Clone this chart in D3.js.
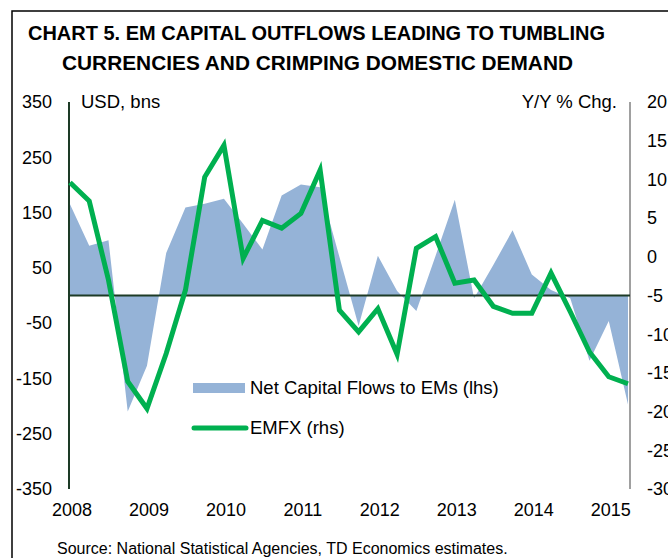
<!DOCTYPE html>
<meta charset="utf-8">

<style>
  body { margin: 0; background: #fff; }
  text { font-family: "Liberation Sans", Arial, sans-serif; fill: #000; }
  .title { font-family: "Liberation Sans Narrow", "Arial Narrow", "Liberation Sans", sans-serif; font-weight: bold; font-size: 21px; }
  .tick-label { font-size: 18px; }
  .axis-title { font-size: 18.5px; }
  .legend text { font-size: 18.5px; }
</style>

<svg width="668" height="558"></svg>

<script src="https://d3js.org/d3.v7.min.js"></script>
<script>
// ====================================================================
// quarterly, 2008Q1 .. 2015Q2
const quarters = d3.range(30)
const years = ["2008", "2009", "2010", "2011", "2012", "2013", "2014", "2015"]

// net capital flows to EMs, USD bns (lhs)
const netFlows = [165, 90, 100, -210, -127, 77, 159, 166,
                  175, 130, 83, 181, 201, 196, 70, -55,
                  72, 8, -28, 72, 173, -5, 55, 118,
                  38, 10, -5, -118, -46, -197]

// EMFX, y/y % chg (rhs)
const emfx = [9.6, 7.2, -3, -16.1, -19.6, -12.5, -4.3, 10.3,
              14.4, -0.2, 4.7, 3.7, 5.6, 11.2, -6.9, -9.7,
              -6.7, -12.6, 1.1, 2.6, -3.4, -3.0, -6.4, -7.3,
              -7.3, -2.1, -7.1, -12.3, -15.5, -16.4]

const leftTicks = [350, 250, 150, 50, -50, -150, -250, -350]
const rightTicks = [20, 15, 10, 5, 0, -5, -10, -15, -20, -25, -30]

// ====================================================================
const svg = d3.select("svg")

const x = d3.scaleLinear().domain([0, 29]).range([70, 628])
const yL = d3.scaleLinear().domain([-350, 350]).range([489, 102])
const yR = d3.scaleLinear().domain([-30, 20]).range([489, 102])

// frame
svg.append("rect")
    .attr("x", 12).attr("y", 11)
    .attr("width", 700).attr("height", 600)
    .attr("fill", "none")
    .attr("stroke", "#000")
    .attr("stroke-width", 1.5)

// title, squeezed to the narrow width of the original
svg.append("text").attr("class", "title")
    .attr("x", 28).attr("y", 40)
    .attr("textLength", 577).attr("lengthAdjust", "spacingAndGlyphs")
    .text("CHART 5. EM CAPITAL OUTFLOWS LEADING TO TUMBLING")
svg.append("text").attr("class", "title")
    .attr("x", 62).attr("y", 70)
    .attr("textLength", 511).attr("lengthAdjust", "spacingAndGlyphs")
    .text("CURRENCIES AND CRIMPING DOMESTIC DEMAND")

// area for net flows
const area = d3.area()
    .x((d, i) => x(i))
    .y0(yL(0))
    .y1((d) => yL(d))

svg.append("path")
    .datum(netFlows)
    .attr("d", area)
    .attr("fill", "#95b3d7")

// axes lines
svg.append("line")
    .attr("x1", 69).attr("x2", 69)
    .attr("y1", yL(350)).attr("y2", yL(-350))
    .attr("stroke", "#1d3b26").attr("stroke-width", 2)

svg.append("line")
    .attr("x1", 630).attr("x2", 630)
    .attr("y1", yR(20)).attr("y2", yR(-30))
    .attr("stroke", "#a0a0a0").attr("stroke-width", 2)

svg.append("line")
    .attr("x1", 69).attr("x2", 630)
    .attr("y1", yL(0)).attr("y2", yL(0))
    .attr("stroke", "#1d3b26").attr("stroke-width", 2)

// emfx line
const line = d3.line()
    .x((d, i) => x(i))
    .y((d) => yR(d))

svg.append("path")
    .datum(emfx)
    .attr("d", line)
    .attr("fill", "none")
    .attr("stroke", "#00b050")
    .attr("stroke-width", 5)
    .attr("stroke-linejoin", "miter")

// left tick labels
svg.append("g")
    .selectAll("text")
    .data(leftTicks)
    .enter()
    .append("text")
    .attr("class", "tick-label")
    .attr("x", 52)
    .attr("y", (d) => yL(d))
    .attr("dy", "0.35em")
    .attr("text-anchor", "end")
    .text((d) => d)

// right tick labels (cut by the picture edge, as in the original)
svg.append("g")
    .selectAll("text")
    .data(rightTicks)
    .enter()
    .append("text")
    .attr("class", "tick-label")
    .attr("x", 647)
    .attr("y", (d) => yR(d))
    .attr("dy", "0.35em")
    .text((d) => d)

// x labels
svg.append("g")
    .selectAll("text")
    .data(years)
    .enter()
    .append("text")
    .attr("class", "tick-label")
    .attr("x", (d, i) => x(i * 4) + 2)
    .attr("y", 510)
    .attr("dy", "0.35em")
    .attr("text-anchor", "middle")
    .text((d) => d)

// axis titles
svg.append("text").attr("class", "axis-title")
    .attr("x", 81).attr("y", 102).attr("dy", "0.35em")
    .text("USD, bns")
svg.append("text").attr("class", "axis-title")
    .attr("x", 617).attr("y", 102).attr("dy", "0.35em")
    .attr("text-anchor", "end")
    .text("Y/Y % Chg.")

// legend
const legend = svg.append("g").attr("class", "legend")
legend.append("rect")
    .attr("x", 193).attr("y", 383)
    .attr("width", 52).attr("height", 10)
    .attr("fill", "#95b3d7")
legend.append("text")
    .attr("x", 250).attr("y", 388).attr("dy", "0.35em")
    .text("Net Capital Flows to EMs (lhs)")
legend.append("line")
    .attr("x1", 194).attr("x2", 246)
    .attr("y1", 428).attr("y2", 428)
    .attr("stroke", "#00b050").attr("stroke-width", 5)
    .attr("stroke-linecap", "round")
legend.append("text")
    .attr("x", 250).attr("y", 428).attr("dy", "0.35em")
    .text("EMFX (rhs)")

// source
svg.append("text")
    .attr("x", 57).attr("y", 548).attr("dy", "0.35em")
    .style("font-size", "16px")
    .text("Source: National Statistical Agencies, TD Economics estimates.")

</script>
